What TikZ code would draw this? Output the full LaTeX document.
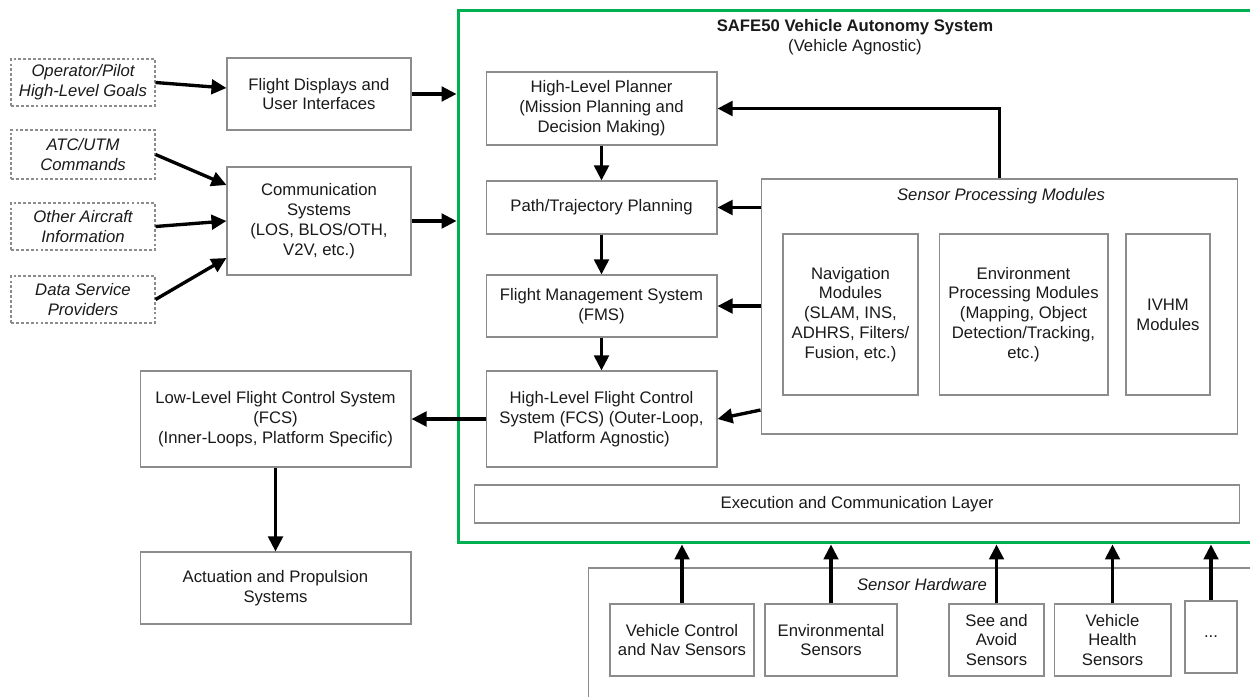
\documentclass[tikz,border=0pt]{standalone}
\usepackage{fontspec}
\setmainfont{Liberation Sans}
\usetikzlibrary{arrows.meta}
\definecolor{boxgray}{HTML}{8C8C8C}
\definecolor{sysgreen}{HTML}{00B050}
\definecolor{txt}{HTML}{1A1A1A}
\tikzset{
  box/.style={draw=boxgray, line width=0.6pt, align=center, inner sep=1pt, text=txt,
    font=\fontsize{9.5}{11.3}\selectfont},
  dbox/.style={box, dashed, dash pattern=on 1.6pt off 1.2pt},
  arr/.style={line width=1.9pt, -{Triangle[length=0.3cm,width=0.29cm]}},
  lbl/.style={font=\fontsize{9.5}{11.3}\selectfont\itshape, text=txt, inner sep=0pt},
}
\begin{document}
\begin{tikzpicture}[x=0.02cm,y=-0.02cm]
\useasboundingbox (0,0) rectangle (1250,696);
\clip (0,0) rectangle (1250,696);
\fill[white] (0,0) rectangle (1250,696);

% system boundary
\node[draw=sysgreen, line width=1.7pt, minimum width=16.08cm, minimum height=10.66cm, inner sep=0pt] (sys) at (860,276.5) {};
\node[font=\fontsize{9.5}{11.3}\selectfont\bfseries, text=txt, inner sep=0pt] (title) at (855,27) {SAFE50 Vehicle Autonomy System};
\node[font=\fontsize{9.5}{11.3}\selectfont, text=txt, inner sep=0pt] (subtitle) at (855,47) {(Vehicle Agnostic)};

% sensor hardware container
\node[draw=boxgray, line width=0.6pt, minimum width=13.64cm, minimum height=3.04cm, inner sep=0pt] (shw) at (929,644) {};
\node[lbl] (shwl) at (922,585) {Sensor Hardware};

% left inputs
\node[dbox, minimum width=2.88cm, minimum height=0.94cm] (op) at (83,82.5) {\itshape Operator/Pilot\\\itshape High-Level Goals};
\node[dbox, minimum width=2.88cm, minimum height=0.98cm] (atc) at (83,154.5) {\itshape ATC/UTM\\\itshape Commands};
\node[dbox, minimum width=2.88cm, minimum height=0.94cm] (oth) at (83,226.5) {\itshape Other Aircraft\\\itshape Information};
\node[dbox, minimum width=2.88cm, minimum height=0.94cm] (dsp) at (83,299.5) {\itshape Data Service\\\itshape Providers};

\node[box, minimum width=3.68cm, minimum height=1.44cm] (fd) at (319,94) {Flight Displays and\\User Interfaces};
\node[box, minimum width=3.68cm, minimum height=2.16cm] (comm) at (319,221) {Communication\\Systems\\(LOS, BLOS/OTH,\\V2V, etc.)};

% core pipeline
\node[box, minimum width=4.62cm, minimum height=1.46cm] (hlp) at (601.5,108.5) {High-Level Planner\\(Mission Planning and\\Decision Making)};
\node[box, minimum width=4.62cm, minimum height=1.06cm] (path) at (601.5,207.5) {Path/Trajectory Planning};
\node[box, minimum width=4.62cm, minimum height=1.24cm] (fms) at (601.5,306) {Flight Management System\\(FMS)};
\node[box, minimum width=4.62cm, minimum height=1.92cm] (hfcs) at (601.5,419) {High-Level Flight Control\\System (FCS) (Outer-Loop,\\Platform Agnostic)};

% sensor processing modules
\node[box, minimum width=9.54cm, minimum height=5.10cm] (spm) at (999.5,306.5) {};
\node[lbl] (spml) at (1001,196) {Sensor Processing Modules};
\node[box, minimum width=2.70cm, minimum height=3.22cm] (nav) at (850.5,314.5) {Navigation\\Modules\\(SLAM, INS,\\ADHRS, Filters/\\Fusion, etc.)};
\node[box, minimum width=3.38cm, minimum height=3.22cm] (env) at (1023.5,314.5) {Environment\\Processing Modules\\(Mapping, Object\\Detection/Tracking,\\etc.)};
\node[box, minimum width=1.68cm, minimum height=3.22cm] (ivhm) at (1168,314.5) {IVHM\\Modules};

\node[box, minimum width=15.32cm, minimum height=0.76cm] (exec) at (857,504) {Execution and Communication Layer};

% low level
\node[box, minimum width=5.42cm, minimum height=1.92cm] (lfcs) at (275.5,419) {Low-Level Flight Control System\\(FCS)\\(Inner-Loops, Platform Specific)};
\node[box, minimum width=5.42cm, minimum height=1.44cm] (act) at (275.5,588) {Actuation and Propulsion\\Systems};

% sensors
\node[box, minimum width=2.88cm, minimum height=1.44cm] (vcs) at (682,640) {Vehicle Control\\and Nav Sensors};
\node[box, minimum width=2.64cm, minimum height=1.44cm] (envs) at (831,640) {Environmental\\Sensors};
\node[box, minimum width=1.90cm, minimum height=1.44cm] (saa) at (996.5,640) {See and\\Avoid\\Sensors};
\node[box, minimum width=2.34cm, minimum height=1.44cm] (vhs) at (1112.5,640) {Vehicle\\Health\\Sensors};
\node[box, minimum width=1.04cm, minimum height=1.44cm] (dots) at (1211,637) {...};

% connectors
\draw[arr] (op.east) -- (fd.west |- 0,88);
\draw[arr] (atc.east) -- (comm.west |- 0,185);
\draw[arr] (oth.east) -- (comm.west |- 0,221);
\draw[arr] (dsp.east) -- (comm.west |- 0,258);
\draw[arr] (fd.east) -- (fd.east -| sys.west);
\draw[arr] (comm.east) -- (comm.east -| sys.west);

\draw[arr] (hlp.south) -- (path.north);
\draw[arr] (path.south) -- (fms.north);
\draw[arr] (fms.south) -- (hfcs.north);

\draw[arr] (spm.north) |- (hlp.east);
\draw[arr] (spm.west |- path.east) -- (path.east);
\draw[arr] (spm.west |- fms.east) -- (fms.east);
\draw[arr] (spm.west |- 0,410) -- (hfcs.east);

\draw[arr] (hfcs.west) -- (lfcs.east);
\draw[arr] (lfcs.south) -- (act.north);

\draw[arr] (vcs.north) -- (vcs.north |- sys.south);
\draw[arr] (envs.north) -- (envs.north |- sys.south);
\draw[arr] (saa.north) -- (saa.north |- sys.south);
\draw[arr] (vhs.north) -- (vhs.north |- sys.south);
\draw[arr] (dots.north) -- (dots.north |- sys.south);
\end{tikzpicture}
\end{document}
